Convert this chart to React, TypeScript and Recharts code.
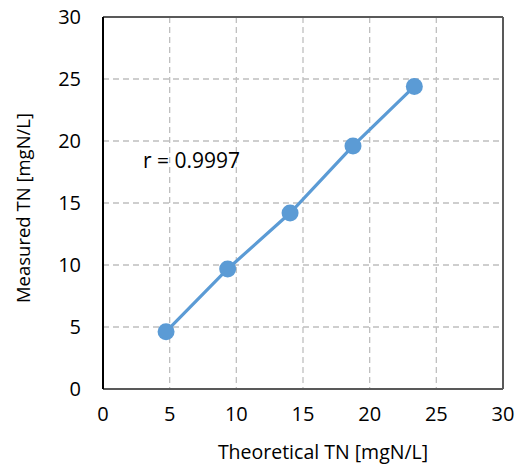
import React from 'react';
import {
  ScatterChart, Scatter, XAxis, YAxis, CartesianGrid, ReferenceLine, ReferenceDot, Label,
} from 'recharts';

const theoreticalTN = [4.73, 9.35, 14.03, 18.75, 23.35];
const measuredTN = [4.62, 9.68, 14.19, 19.6, 24.4];
const axisTicks = [0, 5, 10, 15, 20, 25, 30];
const annotationText = 'r = 0.9997';
const annotationPos = { x: 3.0, y: 18.45 };

const data = theoreticalTN.map((x, i) => ({ x, y: measuredTN[i] }));

const FONT = '"Open Sans", "Noto Sans", sans-serif';
const BLUE = '#5B9BD5';

const Dot = (props: any) => {
  const { cx, cy } = props;
  return <circle cx={cx} cy={cy} r={8.5} fill={BLUE} />;
};

export default function App() {
  return (
    <div style={{ position: 'absolute', left: 0, top: 0, width: 521, height: 466, background: '#fff' }}>
      <ScatterChart width={521} height={466} margin={{ top: 17, right: 18, bottom: 0, left: 0 }}>
        <CartesianGrid stroke="#BFBFBF" strokeDasharray="6 4" strokeWidth={1.3} />
        <XAxis
          type="number"
          dataKey="x"
          domain={[0, 30]}
          ticks={axisTicks}
          height={77}
          tickLine={false}
          tickMargin={12}
          axisLine={{ stroke: '#595959', strokeWidth: 2 }}
          tick={{ fill: '#000', fontSize: 20, fontFamily: FONT }}
          interval={0}
        >
          <Label
            content={(p: any) => (
              <text
                x={p.viewBox.x + p.viewBox.width / 2 + 20}
                y={452}
                dy="0.35em"
                textAnchor="middle"
                fontSize={19.5}
                fontFamily={FONT}
                fill="#000"
              >
                Theoretical TN [mgN/L]
              </text>
            )}
          />
        </XAxis>
        <YAxis
          type="number"
          dataKey="y"
          domain={[0, 30]}
          ticks={axisTicks}
          width={103}
          tickLine={false}
          tickMargin={16}
          axisLine={{ stroke: '#000', strokeWidth: 2 }}
          tick={{ fill: '#000', fontSize: 20, fontFamily: FONT }}
          interval={0}
        >
          <Label
            content={(p: any) => {
              const cx = 24;
              const cy = p.viewBox.y + p.viewBox.height / 2 + 5;
              return (
                <text
                  x={cx}
                  y={cy}
                  dy="0.35em"
                  textAnchor="middle"
                  transform={`rotate(-90 ${cx} ${cy})`}
                  fontSize={18.5}
                  fontFamily={FONT}
                  fill="#000"
                >
                  Measured TN [mgN/L]
                </text>
              );
            }}
          />
        </YAxis>
        <ReferenceLine y={30} stroke="#595959" strokeWidth={2} />
        <ReferenceLine x={30} stroke="#595959" strokeWidth={2} />
        <Scatter
          data={data}
          fill={BLUE}
          line={{ stroke: BLUE, strokeWidth: 3.2 }}
          shape={Dot}
          isAnimationActive={false}
        />
        <ReferenceDot
          x={annotationPos.x}
          y={annotationPos.y}
          r={0}
          fill="none"
          stroke="none"
          label={(p: any) => (
            <text
              x={p.viewBox.x}
              y={p.viewBox.y}
              dy="0.35em"
              textAnchor="start"
              fontSize={21}
              fontFamily={FONT}
              fill="#000"
            >
              {annotationText}
            </text>
          )}
        />
      </ScatterChart>
    </div>
  );
}
